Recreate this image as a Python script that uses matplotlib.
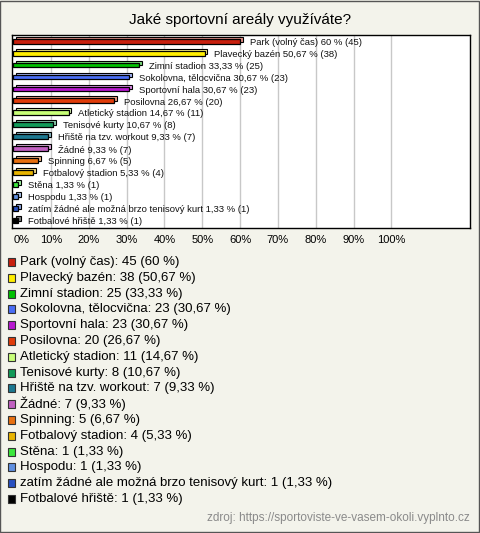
import matplotlib.pyplot as plt
import matplotlib.colors as mcolors
from matplotlib.patches import Rectangle

plt.rcParams['font.family'] = ['Liberation Sans', 'DejaVu Sans']

labels = ['Park (volný čas)', 'Plavecký bazén', 'Zimní stadion', 'Sokolovna, tělocvična',
          'Sportovní hala', 'Posilovna', 'Atletický stadion', 'Tenisové kurty',
          'Hřiště na tzv. workout', 'Žádné', 'Spinning', 'Fotbalový stadion', 'Stěna',
          'Hospodu', 'zatím žádné ale možná brzo tenisový kurt', 'Fotbalové hřiště']
counts = [45, 38, 25, 23, 23, 20, 11, 8, 7, 7, 5, 4, 1, 1, 1, 1]
percents = ['60', '50,67', '33,33', '30,67', '30,67', '26,67', '14,67', '10,67',
            '9,33', '9,33', '6,67', '5,33', '1,33', '1,33', '1,33', '1,33']
colors = ['#c8200e', '#ffee00', '#00c000', '#4a6ef5', '#b818d0', '#e03c0a', '#c8ff78',
          '#129a58', '#1c7890', '#c060c0', '#e87010', '#e8b400', '#3ce83c', '#6090e0',
          '#2850c0', '#000000']
total = 75
ticks = list(range(0, 101, 10))

bg = '#f3f3eb'
fig = plt.figure(figsize=(4.8, 5.33), dpi=100, facecolor=bg)
fig.patches.append(Rectangle((0.001, 0.001), 0.997, 0.997, transform=fig.transFigure,
                             fill=False, edgecolor='#555555', linewidth=1))

ax = fig.add_axes([12 / 480, 1 - 228 / 533, 458 / 480, 193 / 533])
ax.set_facecolor('white')
vals = [c / total * 100 for c in counts]
ys = list(range(len(labels)))

for x in ticks[1:]:
    ax.axvline(x, color='#c8c8c8', linewidth=1, zorder=0)

# pseudo-3D bars: lighter back face shifted up/right, front face on top
for y, v, c in zip(ys, vals, colors):
    light = mcolors.to_rgb(c)
    light = tuple(0.5 + 0.5 * ch for ch in light)
    ax.barh(y - 0.15, v, left=0.7, height=0.4, color=light, edgecolor='black',
            linewidth=0.8, zorder=2)
    ax.barh(y + 0.02, v, height=0.4, color=c, edgecolor='black', linewidth=0.9, zorder=3)

for y, v, lab, p, n in zip(ys, vals, labels, percents, counts):
    ax.annotate(f'{lab} {p} % ({n})', (v, y), xytext=(7, -1), textcoords='offset points',
                va='center', ha='left', fontsize=6.8, color='#111111')

ax.set_xlim(-0.3, 120.8)
ax.set_ylim(15.67, -0.5)
ax.set_yticks([])
ax.set_xticks(ticks)
ax.set_xticklabels([f'{t}%' for t in ticks], fontsize=8)
ax.tick_params(axis='x', length=0, pad=5)
ax.get_xticklabels()[0].set_ha('left')
for s in ax.spines.values():
    s.set_color('black')
    s.set_linewidth(1)

fig.text(0.5, 1 - 20 / 533, 'Jaké sportovní areály využíváte?', ha='center', va='center',
         fontsize=11)

y0, dy = 262, 15.8
for i, (lab, n, p, c) in enumerate(zip(labels, counts, percents, colors)):
    yy = 1 - (y0 + i * dy) / 533
    fig.patches.append(Rectangle((7.5 / 480, yy - 4 / 533), 8 / 480, 8 / 533,
                                 transform=fig.transFigure, facecolor=c,
                                 edgecolor='#333333', linewidth=0.8))
    fig.text(20 / 480, yy, f'{lab}: {n} ({p} %)', ha='left', va='center', fontsize=9.5)

fig.text(470 / 480, 1 - 518 / 533, 'zdroj: https://sportoviste-ve-vasem-okoli.vyplnto.cz',
         ha='right', va='center', fontsize=8.5, color='#8a8a8a')

fig.savefig('out.png', dpi=100, facecolor=bg)
